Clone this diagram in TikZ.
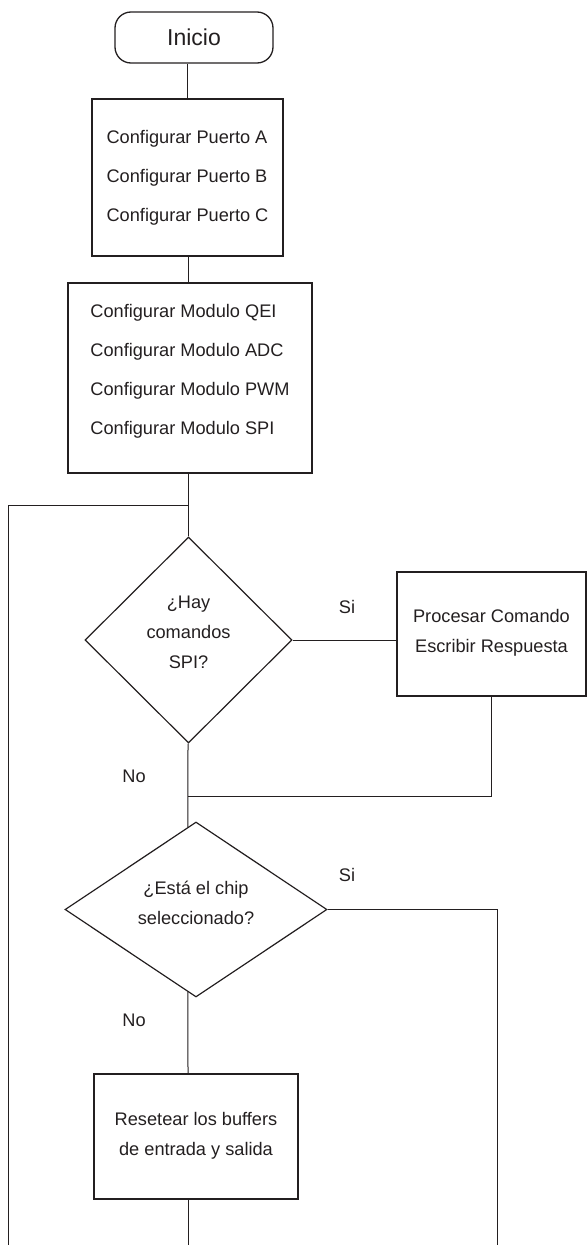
\documentclass[tikz,border=0pt]{standalone}
\usepackage{fontspec}
\setmainfont{Liberation Sans}
\usetikzlibrary{shapes.geometric, calc}
\definecolor{ink}{RGB}{35,31,32}
% text block with extra room below, so that it sits a little high in its shape
\newcommand{\liftc}[2]{\raisebox{0pt}[\height][\dimexpr\depth+#1\relax]{\begin{tabular}{@{}c@{}}#2\end{tabular}}}
\newcommand{\liftl}[2]{\raisebox{0pt}[\height][\dimexpr\depth+#1\relax]{\begin{tabular}{@{}l@{}}#2\end{tabular}}}

\begin{document}
\begin{tikzpicture}[
        x=1pt, y=1pt,
        every node/.style={text=ink, font=\fontsize{18.2}{30}\selectfont},
        terminal/.style={draw=ink, line width=1.3pt, rounded corners=16pt, minimum width=158pt, minimum height=51pt, font=\fontsize{23}{28}\selectfont},
        block/.style={draw=ink, line width=1.5pt, inner sep=0pt},
        decision/.style={diamond, draw=ink, line width=1.2pt, inner sep=0pt},
        line/.style={draw=ink, line width=1pt},
        lbl/.style={inner sep=0pt}
    ]
        \useasboundingbox (0,0) rectangle (587,-1245);

        % -- main column --
        \node[terminal] (start) at (194,-37.5) {Inicio};
        \node[block, minimum width=191pt, minimum height=157pt] (ports) at (187.5,-177.5)
            {\liftl{2pt}{Configurar Puerto A\\[9pt]Configurar Puerto B\\[9pt]Configurar Puerto C}};
        \node[block, minimum width=244pt, minimum height=190pt] (modules) at (190,-378)
            {\liftl{16pt}{Configurar Modulo QEI\\[9pt]Configurar Modulo ADC\\[9pt]Configurar Modulo PWM\\[9pt]Configurar Modulo SPI}};
        \node[decision, minimum width=207pt, minimum height=206pt] (spi) at (188.5,-640)
            {\liftc{16pt}{¿Hay\\comandos\\SPI?}};
        \node[decision, aspect=1.5, minimum width=262pt, minimum height=175pt] (chip) at (196,-909.5)
            {\liftc{13pt}{¿Está el chip\\seleccionado?}};
        \node[block, minimum width=204pt, minimum height=125pt] (reset) at (196,-1136.5)
            {\liftc{5pt}{Resetear los buffers\\de entrada y salida}};
        % -- branch box (right) --
        \node[block, minimum width=189pt, minimum height=124pt] (proc) at (491.5,-634)
            {\liftc{6pt}{Procesar Comando\\Escribir Respuesta}};

        % -- answer labels --
        \node[lbl] (si1) at (347,-607)  {Si};
        \node[lbl] (no1) at (134,-776)  {No};
        \node[lbl] (si2) at (347,-875)  {Si};
        \node[lbl] (no2) at (134,-1020) {No};

        % free ends and joints
        \coordinate (loop)    at (188,-505);
        \coordinate (loopend) at (8,-1245);
        \coordinate (join)    at (188,-796);
        \coordinate (siend)   at (497,-1245);
        \coordinate (exit)    at (188,-1245);

        % spine
        \draw[line] (ports.north) -- (ports.north |- start.south);
        \draw[line] (ports.south -| loop) -- (modules.north -| loop);
        \draw[line] (modules.south -| loop) -- (spi.north -| loop);
        \draw[line] (spi.south -| join) -- ($(chip.north)!0.061!(chip.west)$);
        \draw[line] ($(chip.south)!0.061!(chip.west)$) -- (reset.north -| join);
        \draw[line] (reset.south -| join) -- (exit);

        % loop back on the left
        \draw[line] (loop) -| (loopend);

        % Si branches
        \draw[line] (spi.east) -- (spi.east -| proc.west);
        \draw[line] (proc.south) |- (join);
        \draw[line] (chip.east) -| (siend);
    \end{tikzpicture}
\end{document}
